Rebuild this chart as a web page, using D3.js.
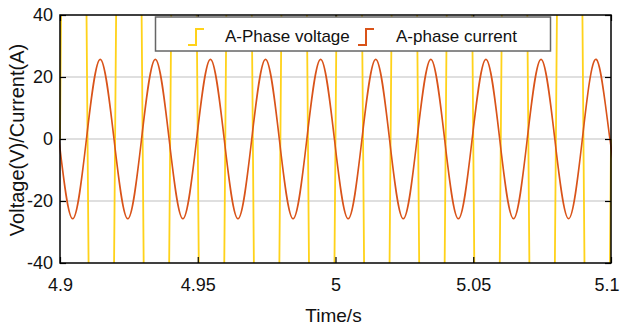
<!DOCTYPE html>
<html>
<head>
<meta charset="utf-8">
<script src="https://cdn.jsdelivr.net/npm/d3@7/dist/d3.min.js"></script>
<style>
  html, body { margin: 0; padding: 0; background: #fff; }
  svg { display: block; font-family: "Liberation Sans", Arial, sans-serif; }
</style>
</head>
<body>
<svg id="chart" width="620" height="325"></svg>
<script>
// ---- data ----
const xTicks = [4.9, 4.95, 5, 5.05, 5.1];
const xTickLabels = ["4.9", "4.95", "5", "5.05", "5.1"];
const yTicks = [-40, -20, 0, 20, 40];
const yTickLabels = ["-40", "-20", "0", "20", "40"];
const gridValues = [-20, 0, 20];
const seriesNames = ["A-Phase voltage", "A-phase current"];

// A-phase voltage: zero crossings and peaks (peaks far outside the visible range,
// amplitude estimated from the steepness of the visible crossings)
const voltageTime = [
  4.900, 4.905, 4.910, 4.915, 4.920, 4.925, 4.930, 4.935, 4.940, 4.945,
  4.950, 4.955, 4.960, 4.965, 4.970, 4.975, 4.980, 4.985, 4.990, 4.995,
  5.000, 5.005, 5.010, 5.015, 5.020, 5.025, 5.030, 5.035, 5.040, 5.045,
  5.050, 5.055, 5.060, 5.065, 5.070, 5.075, 5.080, 5.085, 5.090, 5.095,
  5.100
];
const voltageValue = [
  0, 360, 0, -360, 0, 360, 0, -360, 0, 360,
  0, -360, 0, 360, 0, -360, 0, 360, 0, -360,
  0, 360, 0, -360, 0, 360, 0, -360, 0, 360,
  0, -360, 0, 360, 0, -360, 0, 360, 0, -360,
  0
];

// A-phase current: zero crossings, troughs and peaks
const currentTime = [
  4.8996, 4.9046, 4.9096, 4.9146, 4.9196, 4.9246, 4.9296, 4.9346, 4.9396, 4.9446,
  4.9496, 4.9546, 4.9596, 4.9646, 4.9696, 4.9746, 4.9796, 4.9846, 4.9896, 4.9946,
  4.9996, 5.0046, 5.0096, 5.0146, 5.0196, 5.0246, 5.0296, 5.0346, 5.0396, 5.0446,
  5.0496, 5.0546, 5.0596, 5.0646, 5.0696, 5.0746, 5.0796, 5.0846, 5.0896, 5.0946,
  5.0996, 5.1046
];
const currentValue = [
  0, -25.7, 0, 25.7, 0, -25.7, 0, 25.7, 0, -25.7,
  0, 25.7, 0, -25.7, 0, 25.7, 0, -25.7, 0, 25.7,
  0, -25.7, 0, 25.7, 0, -25.7, 0, 25.7, 0, -25.7,
  0, 25.7, 0, -25.7, 0, 25.7, 0, -25.7, 0, 25.7,
  0, -25.7
];

// ---- layout ----
const svg = d3.select("#chart");
const L = 60, R = 611, T = 15, B = 263;
const colors = ["#FFD21A", "#D95319"];

const x = d3.scaleLinear().domain([4.9, 5.1]).range([L, R]);
const y = d3.scaleLinear().domain([-40, 40]).range([B, T]);

svg.append("defs").append("clipPath").attr("id", "plotclip")
  .append("rect").attr("x", L - 1).attr("y", T).attr("width", R - L + 2).attr("height", B - T);

// grid
svg.append("g").selectAll("line").data(gridValues).join("line")
  .attr("x1", L).attr("x2", R)
  .attr("y1", d => y(d)).attr("y2", d => y(d))
  .attr("stroke", "#c0c0c0").attr("stroke-width", 1.2);

const plot = svg.append("g").attr("clip-path", "url(#plotclip)");

const vData = voltageTime.map((t, i) => [t, voltageValue[i]]);
const cData = currentTime.map((t, i) => [t, currentValue[i]]);

const line = d3.line().x(d => x(d[0])).y(d => y(d[1])).curve(d3.curveNatural);

plot.append("path").datum(vData).attr("d", line)
  .attr("fill", "none").attr("stroke", colors[0]).attr("stroke-width", 1.8);
plot.append("path").datum(cData).attr("d", line)
  .attr("fill", "none").attr("stroke", colors[1]).attr("stroke-width", 1.6);

// axes
const fs = "18px";
const gx = svg.append("g").attr("transform", `translate(0,${B})`)
  .call(d3.axisBottom(x).tickValues(xTicks).tickFormat((d, i) => xTickLabels[i]).tickSize(-6).tickPadding(15));
const gy = svg.append("g").attr("transform", `translate(${L},0)`)
  .call(d3.axisLeft(y).tickValues(yTicks).tickFormat((d, i) => yTickLabels[i]).tickSize(-6).tickPadding(7));
const gt = svg.append("g").attr("transform", `translate(0,${T})`)
  .call(d3.axisTop(x).tickValues(xTicks).tickFormat("").tickSize(-6));
const gr = svg.append("g").attr("transform", `translate(${R},0)`)
  .call(d3.axisRight(y).tickValues(yTicks).tickFormat("").tickSize(-6));

[gx, gy, gt, gr].forEach(g => {
  g.select(".domain").remove();
  g.selectAll(".tick line").attr("stroke", "#000").attr("stroke-width", 1.2);
  g.selectAll(".tick text").attr("fill", "#111").style("font-size", fs)
    .style("font-family", '"Liberation Sans", Arial, sans-serif');
});
// keep the last x label inside the page
gx.selectAll(".tick text").filter((d, i) => i === xTicks.length - 1)
  .attr("text-anchor", "end").attr("x", 619 - R);

// frame
svg.append("rect").attr("x", L).attr("y", T).attr("width", R - L).attr("height", B - T)
  .attr("fill", "none").attr("stroke", "#000").attr("stroke-width", 1.5);

// axis titles
svg.append("text").attr("x", (L + R) / 2 - 2).attr("y", 322)
  .attr("text-anchor", "middle").style("font-size", "19px").attr("fill", "#111")
  .text("Time/s");
svg.append("text").attr("transform", `translate(24,${(T + B) / 2 + 1}) rotate(-90)`)
  .attr("text-anchor", "middle").style("font-size", "20px").attr("fill", "#111")
  .text("Voltage(V)/Current(A)");

// legend
const lg = svg.append("g");
lg.append("rect").attr("x", 155.5).attr("y", 17).attr("width", 395).attr("height", 34)
  .attr("fill", "#fff").attr("stroke", "#666").attr("stroke-width", 1.5);
const items = [
  { icon: 188, text: 225 },
  { icon: 358, text: 396 }
];
items.forEach((it, i) => {
  const xs = it.icon;
  lg.append("path")
    .attr("d", `M${xs},45 H${xs + 8} V29 H${xs + 16}`)
    .attr("fill", "none").attr("stroke", colors[i]).attr("stroke-width", 2);
  lg.append("text").attr("x", it.text).attr("y", 42)
    .style("font-size", "17px").attr("fill", "#111").text(seriesNames[i]);
});
</script>
</body>
</html>
